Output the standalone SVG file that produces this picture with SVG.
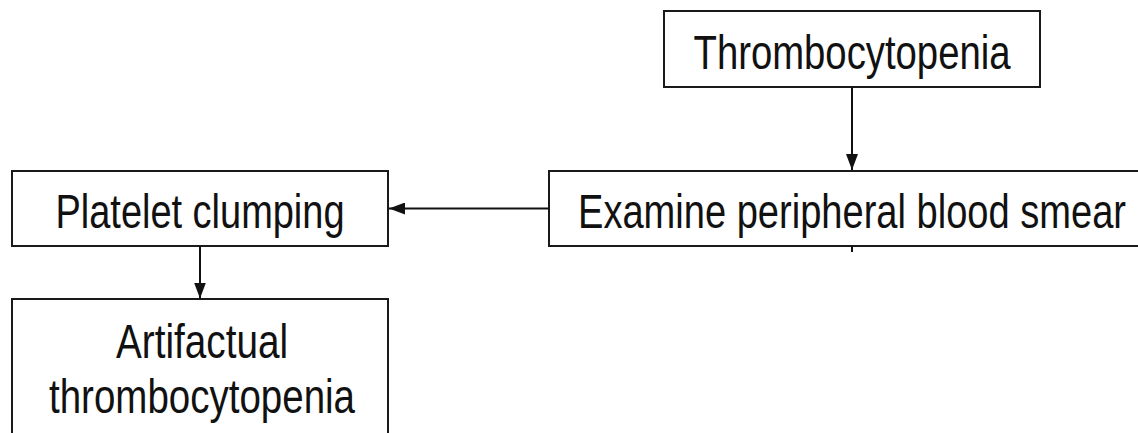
<svg xmlns="http://www.w3.org/2000/svg" width="1138" height="433" viewBox="0 0 1138 433">
  <style>
    .box { fill: #ffffff; stroke: #1a1a1a; stroke-width: 2; }
    .label { font-family: "Liberation Sans", Arial, sans-serif; font-size: 48px; fill: #111111; text-anchor: middle; }
    .link { fill: none; stroke: #111111; stroke-width: 2; }
  </style>
  <defs>
    <marker id="arrow" markerUnits="userSpaceOnUse" markerWidth="16" markerHeight="12" refX="16" refY="6" orient="auto">
      <path d="M0,0 L16,6 L0,12 z" fill="#111111"/>
    </marker>
  </defs>
  <rect width="1138" height="433" fill="#ffffff"/>

  <g id="node-thrombocytopenia">
    <rect class="box" x="664" y="11" width="376" height="76"/>
    <text class="label" x="852" y="69" textLength="317" lengthAdjust="spacingAndGlyphs">Thrombocytopenia</text>
  </g>

  <g id="node-smear">
    <rect class="box" x="549" y="171" width="606" height="75"/>
    <text class="label" x="852" y="228" textLength="548" lengthAdjust="spacingAndGlyphs">Examine peripheral blood smear</text>
  </g>

  <g id="node-clumping">
    <rect class="box" x="12" y="171" width="376" height="75"/>
    <text class="label" x="200" y="228" textLength="289" lengthAdjust="spacingAndGlyphs">Platelet clumping</text>
  </g>

  <g id="node-artifactual">
    <rect class="box" x="12" y="299" width="376" height="150"/>
    <text class="label" x="202" y="358" textLength="172" lengthAdjust="spacingAndGlyphs">Artifactual</text>
    <text class="label" x="202" y="413" textLength="306" lengthAdjust="spacingAndGlyphs">thrombocytopenia</text>
  </g>

  <g id="connectors">
    <line class="link" x1="852" y1="87" x2="852" y2="170" marker-end="url(#arrow)"/>
    <line class="link" x1="549" y1="208.5" x2="389" y2="208.5" marker-end="url(#arrow)"/>
    <line class="link" x1="200" y1="246" x2="200" y2="298.5" marker-end="url(#arrow)"/>
    <line class="link" x1="852" y1="246" x2="852" y2="252"/>
  </g>
</svg>
